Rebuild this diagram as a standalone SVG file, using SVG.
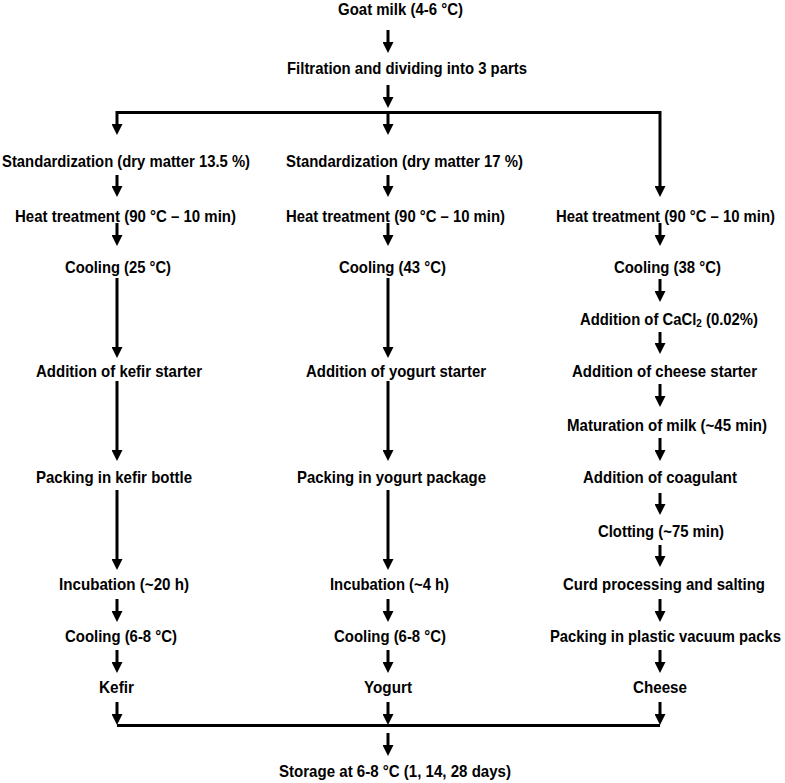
<svg xmlns="http://www.w3.org/2000/svg" width="785" height="783" viewBox="0 0 785 783">
<style>
.t{font-family:"Liberation Sans",Arial,Helvetica,sans-serif;font-weight:bold;font-size:16.5px;fill:#000}
.c{fill:none;stroke:#000;stroke-width:3;stroke-linejoin:miter}
.a{marker-end:url(#ah)}
</style>
<defs>
<marker id="ah" markerUnits="userSpaceOnUse" viewBox="0 0 11 11" refX="0" refY="5.5" markerWidth="11" markerHeight="11" orient="auto">
<path d="M0,0 L11,5.5 L0,11 z" fill="#000"/>
</marker>
</defs>
<rect width="785" height="783" fill="#fff"/>
<g id="connectors">
<path class="c a" d="M388,30 V42"/>
<path class="c a" d="M388,85 V97"/>
<path class="c" d="M117,112.5 H660"/>
<path class="c a" d="M117,111 V124"/>
<path class="c a" d="M388,112 V124"/>
<path class="c a" d="M660,111 V186"/>
<path class="c a" d="M117,175 V186"/>
<path class="c a" d="M388,175 V186"/>
<path class="c a" d="M117,223 V235"/>
<path class="c a" d="M388,223 V235"/>
<path class="c a" d="M660,223 V235"/>
<path class="c a" d="M117,278 V347"/>
<path class="c a" d="M388,278 V347"/>
<path class="c a" d="M660,279 V291"/>
<path class="c a" d="M660,332 V343"/>
<path class="c a" d="M117,381 V450"/>
<path class="c a" d="M388,381 V450"/>
<path class="c a" d="M660,384 V396"/>
<path class="c a" d="M660,438 V450"/>
<path class="c a" d="M117,490 V559"/>
<path class="c a" d="M388,490 V559"/>
<path class="c a" d="M660,493 V504"/>
<path class="c a" d="M660,545 V556"/>
<path class="c a" d="M117,599 V611"/>
<path class="c a" d="M388,599 V611"/>
<path class="c a" d="M660,599 V611"/>
<path class="c a" d="M117,650 V662"/>
<path class="c a" d="M388,650 V662"/>
<path class="c a" d="M660,650 V662"/>
<path class="c a" d="M117,702 V714"/>
<path class="c a" d="M388,702 V714"/>
<path class="c a" d="M660,702 V714"/>
<path class="c" d="M117,725.5 H660"/>
<path class="c a" d="M388,733 V745"/>
</g>
<g id="n1"><text class="t" x="338" y="14.5" textLength="125" lengthAdjust="spacingAndGlyphs">Goat milk (4-6 °C)</text></g>
<g id="n2"><text class="t" x="287" y="73.5" textLength="240" lengthAdjust="spacingAndGlyphs">Filtration and dividing into 3 parts</text></g>
<g id="n3"><text class="t" x="2" y="167" textLength="248" lengthAdjust="spacingAndGlyphs">Standardization (dry matter 13.5 %)</text></g>
<g id="n4"><text class="t" x="286" y="167" textLength="237" lengthAdjust="spacingAndGlyphs">Standardization (dry matter 17 %)</text></g>
<g id="n5"><text class="t" x="15" y="221.5" textLength="221" lengthAdjust="spacingAndGlyphs">Heat treatment (90 °C – 10 min)</text></g>
<g id="n6"><text class="t" x="286" y="221.5" textLength="219" lengthAdjust="spacingAndGlyphs">Heat treatment (90 °C – 10 min)</text></g>
<g id="n7"><text class="t" x="556" y="221.5" textLength="219" lengthAdjust="spacingAndGlyphs">Heat treatment (90 °C – 10 min)</text></g>
<g id="n8"><text class="t" x="65" y="272.5" textLength="106" lengthAdjust="spacingAndGlyphs">Cooling (25 °C)</text></g>
<g id="n9"><text class="t" x="339" y="272.5" textLength="107" lengthAdjust="spacingAndGlyphs">Cooling (43 °C)</text></g>
<g id="n10"><text class="t" x="614" y="272.5" textLength="107" lengthAdjust="spacingAndGlyphs">Cooling (38 °C)</text></g>
<g id="n11"><text class="t" x="580" y="325" textLength="178" lengthAdjust="spacingAndGlyphs">Addition of CaCl<tspan font-size="11" dy="2">2</tspan><tspan dy="-2"> (0.02%)</tspan></text></g>
<g id="n12"><text class="t" x="36" y="377" textLength="166" lengthAdjust="spacingAndGlyphs">Addition of kefir starter</text></g>
<g id="n13"><text class="t" x="306" y="377" textLength="180" lengthAdjust="spacingAndGlyphs">Addition of yogurt starter</text></g>
<g id="n14"><text class="t" x="572" y="377" textLength="185" lengthAdjust="spacingAndGlyphs">Addition of cheese starter</text></g>
<g id="n15"><text class="t" x="567" y="431" textLength="200" lengthAdjust="spacingAndGlyphs">Maturation of milk (~45 min)</text></g>
<g id="n16"><text class="t" x="36" y="483" textLength="156" lengthAdjust="spacingAndGlyphs">Packing in kefir bottle</text></g>
<g id="n17"><text class="t" x="297" y="483" textLength="189" lengthAdjust="spacingAndGlyphs">Packing in yogurt package</text></g>
<g id="n18"><text class="t" x="583" y="483" textLength="154" lengthAdjust="spacingAndGlyphs">Addition of coagulant</text></g>
<g id="n19"><text class="t" x="598" y="537" textLength="126" lengthAdjust="spacingAndGlyphs">Clotting (~75 min)</text></g>
<g id="n20"><text class="t" x="59" y="590" textLength="130" lengthAdjust="spacingAndGlyphs">Incubation (~20 h)</text></g>
<g id="n21"><text class="t" x="330" y="590" textLength="119" lengthAdjust="spacingAndGlyphs">Incubation (~4 h)</text></g>
<g id="n22"><text class="t" x="563" y="590" textLength="202" lengthAdjust="spacingAndGlyphs">Curd processing and salting</text></g>
<g id="n23"><text class="t" x="65" y="642" textLength="112" lengthAdjust="spacingAndGlyphs">Cooling (6-8 °C)</text></g>
<g id="n24"><text class="t" x="334" y="642" textLength="112" lengthAdjust="spacingAndGlyphs">Cooling (6-8 °C)</text></g>
<g id="n25"><text class="t" x="550" y="642" textLength="231" lengthAdjust="spacingAndGlyphs">Packing in plastic vacuum packs</text></g>
<g id="n26"><text class="t" x="99" y="693" textLength="35" lengthAdjust="spacingAndGlyphs">Kefir</text></g>
<g id="n27"><text class="t" x="364" y="693" textLength="48" lengthAdjust="spacingAndGlyphs">Yogurt</text></g>
<g id="n28"><text class="t" x="633" y="693" textLength="54" lengthAdjust="spacingAndGlyphs">Cheese</text></g>
<g id="n29"><text class="t" x="279" y="777" textLength="232" lengthAdjust="spacingAndGlyphs">Storage at 6-8 °C (1, 14, 28 days)</text></g>
</svg>
